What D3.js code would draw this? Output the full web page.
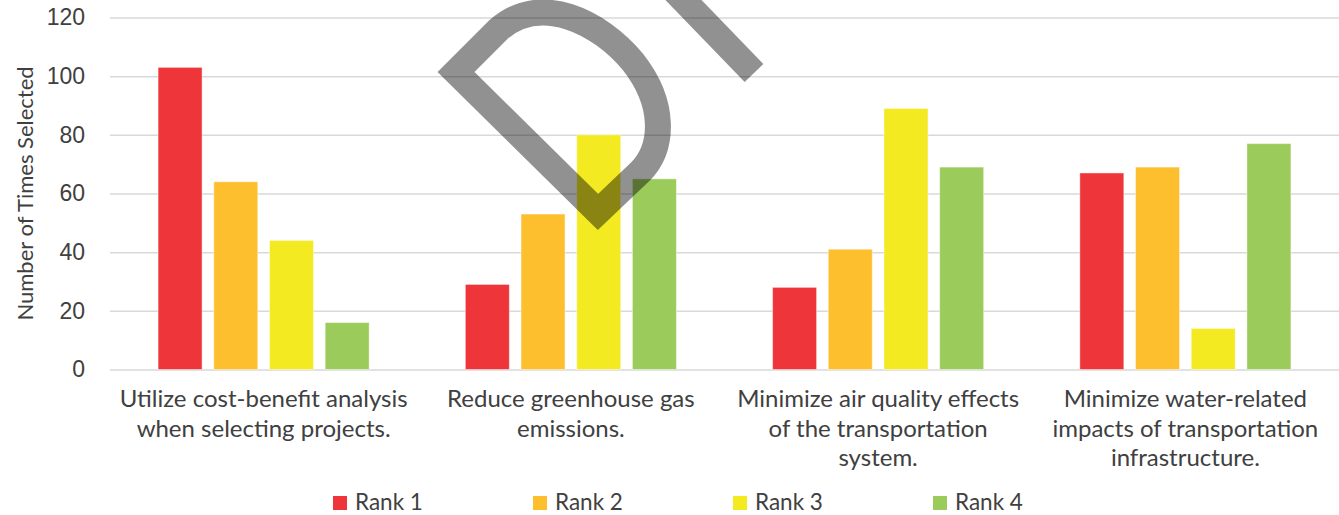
<!DOCTYPE html>
<html lang="en">
<head>
    <meta charset="UTF-8">
    <title>Number of Times Selected by Rank</title>
    <script src="https://d3js.org/d3.v7.min.js"></script>
    <style>
        body {
            margin: 0;
            background: #fff;
            font-family: "Lato", "Open Sans", sans-serif;
        }
        .axis text {
            font-size: 23px;
            fill: #404040;
        }
        .axis .domain {
            display: none;
        }
        .axis .tick line {
            stroke: #d9d9d9;
            stroke-width: 1.5;
        }
        .cat-label {
            font-size: 24px;
            fill: #404040;
        }
        .legend text {
            font-size: 22.5px;
            fill: #404040;
        }
    </style>
</head>
<body>
    <div id="chart"></div>

    <script>
        // data
        const categories = ["cba", "ghg", "air", "water"];
        const categoryLines = [
            ["Utilize cost-benefit analysis", "when selecting projects."],
            ["Reduce greenhouse gas", "emissions."],
            ["Minimize air quality effects", "of the transportation", "system."],
            ["Minimize water-related", "impacts of transportation", "infrastructure."]
        ];
        const ranks = ["Rank 1", "Rank 2", "Rank 3", "Rank 4"];
        const rank1 = [103, 29, 28, 67];
        const rank2 = [64, 53, 41, 69];
        const rank3 = [44, 80, 89, 14];
        const rank4 = [16, 65, 69, 77];
        const yTicks = [0, 20, 40, 60, 80, 100, 120];
        const colors = ["#ee3539", "#fdbf2d", "#f3ea22", "#9bcb5b"];

        const series = [rank1, rank2, rank3, rank4];
        const rows = categories.map((c, i) => ({
            cat: c,
            values: ranks.map((r, j) => ({ rank: r, value: series[j][i] }))
        }));

        const width = 1339, height = 515;
        const m = { left: 110, right: 1339, top: 17.5, bottom: 369.5 };

        const svg = d3.select("#chart").append("svg")
            .attr("width", width)
            .attr("height", height);

        const y = d3.scaleLinear().domain([0, 120]).range([m.bottom, m.top]);

        const x0 = d3.scaleBand()
            .domain(categories)
            .range([m.left, m.right])
            .paddingInner(0.313)
            .paddingOuter(0.1565);

        const x1 = d3.scaleBand()
            .domain(ranks)
            .range([0, x0.bandwidth()])
            .paddingInner(0.21);

        const color = d3.scaleOrdinal().domain(ranks).range(colors);

        // grid + y axis
        svg.append("g")
            .attr("class", "axis")
            .attr("transform", `translate(${m.left},0)`)
            .call(d3.axisLeft(y)
                .tickValues(yTicks)
                .tickSize(-(m.right - m.left))
                .tickPadding(25));

        // bars
        svg.append("g")
            .selectAll("g")
            .data(rows)
            .join("g")
            .attr("transform", d => `translate(${x0(d.cat)},0)`)
            .selectAll("rect")
            .data(d => d.values)
            .join("rect")
            .attr("x", d => x1(d.rank))
            .attr("y", d => y(d.value))
            .attr("width", x1.bandwidth())
            .attr("height", d => y(0) - y(d.value))
            .attr("fill", d => color(d.rank))
            .attr("stroke", "#ffffff")
            .attr("stroke-opacity", 0.45)
            .attr("stroke-width", 1);

        // category labels
        const catG = svg.append("g")
            .selectAll("text")
            .data(rows)
            .join("text")
            .attr("class", "cat-label")
            .attr("text-anchor", "middle")
            .attr("x", d => x0(d.cat) + x0.bandwidth() / 2)
            .attr("y", 407);

        catG.selectAll("tspan")
            .data((d, i) => categoryLines[i])
            .join("tspan")
            .attr("x", function() { return this.parentNode.getAttribute("x"); })
            .attr("dy", (d, i) => i === 0 ? 0 : 29.5)
            .text(d => d);

        // y axis title
        svg.append("text")
            .attr("transform", `translate(33,${(m.top + m.bottom) / 2}) rotate(-90)`)
            .attr("text-anchor", "middle")
            .style("font-size", "22px")
            .style("fill", "#404040")
            .text("Number of Times Selected");

        // legend
        const legend = svg.append("g")
            .attr("class", "legend")
            .selectAll("g")
            .data(ranks)
            .join("g")
            .attr("transform", (d, i) => `translate(${333 + i * 200},496)`);

        legend.append("rect")
            .attr("width", 14)
            .attr("height", 14)
            .attr("fill", d => color(d));

        legend.append("text")
            .attr("x", 22)
            .attr("y", 14)
            .text(d => d);

        // watermark stroke over the chart
        const wm = svg.append("g")
            .attr("fill", "none")
            .attr("stroke", "#000")
            .attr("stroke-opacity", 0.43)
            .attr("stroke-width", 26);

        wm.append("path")
            .attr("stroke-linejoin", "miter")
            .attr("d", "M598,212 L456,72 L498,30 C540,-8 600,22 633,62 C666,104 664,148 640,172 Z");

        wm.append("path")
            .attr("d", "M668,-16 L754,73");
    </script>
</body>
</html>
